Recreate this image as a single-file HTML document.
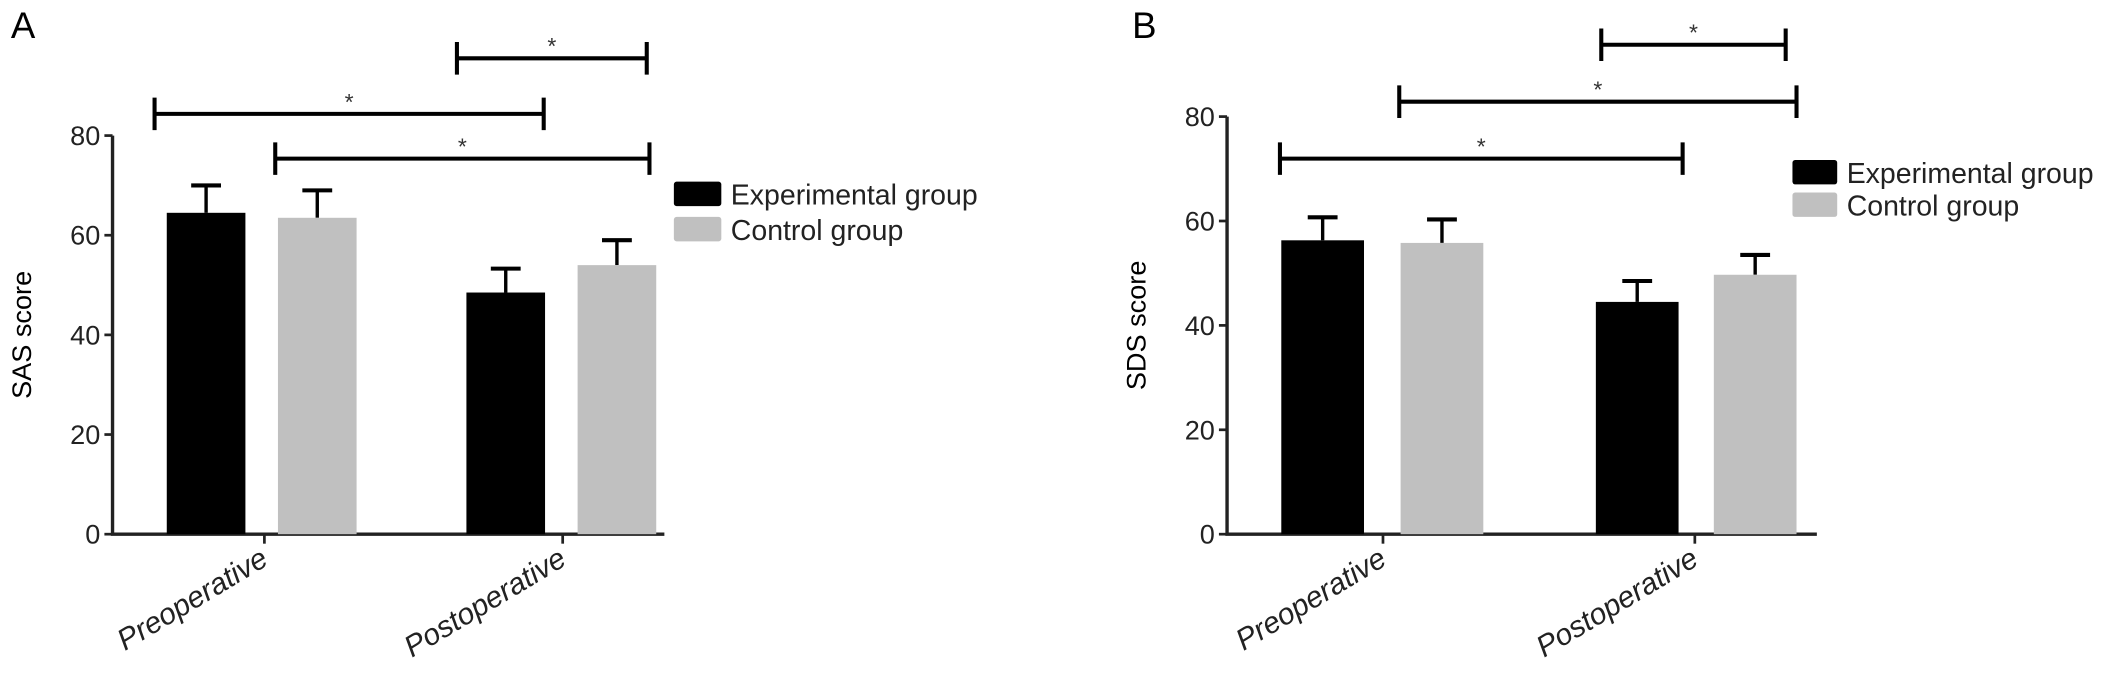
<!DOCTYPE html>
<html><head><meta charset="utf-8"><style>
html,body{margin:0;padding:0;background:#fff;}
svg{display:block;font-family:"Liberation Sans",sans-serif;}
</style></head><body>
<svg id="fig" width="2126" height="676" viewBox="0 0 1568 498.6" preserveAspectRatio="none"></svg>
<script>
const categories = ["Preoperative", "Postoperative"];
const seriesNames = ["Experimental group", "Control group"];
const sasExp = [64.5, 48.5];
const sasExpErr = [5.5, 4.8];
const sasCtrl = [63.5, 54];
const sasCtrlErr = [5.5, 5];
const sdsExp = [56.3, 44.5];
const sdsExpErr = [4.4, 4];
const sdsCtrl = [55.8, 49.7];
const sdsCtrlErr = [4.5, 3.8];
const yTicks = [0, 20, 40, 60, 80];

const NS = "http://www.w3.org/2000/svg";
const svg = document.getElementById('fig');
function mk(tag, attrs, parent, text){
  const e = document.createElementNS(NS, tag);
  for (const k in attrs) e.setAttribute(k, attrs[k]);
  if (text !== undefined) e.textContent = text;
  (parent || svg).appendChild(e);
  return e;
}

function panel(cfg){
  const g = mk('g', {});
  
  
  const y = v => cfg.y0 - (cfg.y0 - cfg.y80) * v / 80;
  const L = mk('text', {x: cfg.letterX, y: 28, 'font-size': 27}, g, cfg.letter);
  
  
  const ax = mk('path', {d:`M${cfg.ax} ${cfg.y80}V${cfg.y0}H${cfg.axEnd}`, stroke:'#222', 'stroke-width':2.5, fill:'none'}, g);
  
  
  yTicks.forEach(t => {
    mk('line', {x1: cfg.ax-6, x2: cfg.ax, y1: y(t), y2: y(t), stroke:'#222', 'stroke-width':2}, g);
    const tl = mk('text', {x: cfg.ax-9, y: y(t)+7, 'font-size': 20, 'text-anchor':'end', fill:'#222'}, g, String(t));
    
    
  });
  const yt = mk('text', {x: 0, y: 0, 'font-size': 20, 'text-anchor':'middle', transform:`translate(${cfg.ax-60},${(cfg.y0+cfg.y80)/2}) rotate(-90)`}, g, cfg.ytitle);
  
  
  const bw = cfg.bw;
  categories.forEach((c, i) => {
    const tx = cfg.tickX[i];
    mk('line', {x1: tx, x2: tx, y1: cfg.y0, y2: cfg.y0+7, stroke:'#222', 'stroke-width':2}, g);
    const xl = mk('text', {x:0, y:0, 'font-size': 22, 'font-style':'italic', 'text-anchor':'end', fill:'#222', transform:`translate(${tx+4},${cfg.y0+22}) rotate(-31)`}, g, c);
    
    
    [[cfg.exp, cfg.expErr, '#000', cfg.barX[i][0], 'bar-experimental-'], [cfg.ctrl, cfg.ctrlErr, '#c0c0c0', cfg.barX[i][1], 'bar-control-']].forEach(s => {
      const v = s[0][i], e = s[1][i], x = s[3];
      const cx = x + bw/2;
      mk('line', {x1: cx, x2: cx, y1: y(v), y2: y(v+e), stroke:'#000', 'stroke-width':2.5}, g);
      mk('line', {x1: cx-11, x2: cx+11, y1: y(v+e), y2: y(v+e), stroke:'#000', 'stroke-width':3}, g);
      const r = mk('rect', {x: x, y: y(v), width: bw, height: cfg.y0 - y(v), fill: s[2]}, g);
      
      
    });
  });
  cfg.brackets.forEach(b => {
    const bg = mk('g', {}, g);
    
    
    mk('path', {d:`M${b[0]} ${b[2]-12}V${b[2]+12}M${b[0]} ${b[2]}H${b[1]}M${b[1]} ${b[2]-12}V${b[2]+12}`, stroke:'#000', 'stroke-width':3, fill:'none'}, bg);
    mk('text', {x:(b[0]+b[1])/2, y: b[2]-3, 'font-size': 17, 'text-anchor':'middle', fill:'#333'}, bg, '*');
  });
  seriesNames.forEach((n, i) => {
    const lg = mk('g', {}, g);
    
    
    mk('rect', {x: cfg.legX, y: cfg.legY + i*cfg.legStep, width: cfg.legW, height: 18, fill: i ? '#c0c0c0' : '#000', rx:2}, lg);
    mk('text', {x: cfg.legX + cfg.legW + 7, y: cfg.legY + i*cfg.legStep + 17, 'font-size': 21, fill:'#222'}, lg, n);
  });
}

panel({name:'panel-a-sas', letter:'A', letterX:8, ax:83, axEnd:490, y0:394, y80:100, ytitle:'SAS score',
  exp:sasExp, expErr:sasExpErr, ctrl:sasCtrl, ctrlErr:sasCtrlErr, bw:58,
  barX:[[123,205],[344,426]], tickX:[195,415],
  brackets:[[337,477,43],[114,401,84],[203,479,117]],
  legX:497, legY:134, legStep:26, legW:35});
panel({name:'panel-b-sds', letter:'B', letterX:835, ax:905, axEnd:1340, y0:394, y80:86, ytitle:'SDS score',
  exp:sdsExp, expErr:sdsExpErr, ctrl:sdsCtrl, ctrlErr:sdsCtrlErr, bw:61,
  barX:[[945,1033],[1177,1264]], tickX:[1020,1250],
  brackets:[[1181,1317,33],[1032,1325,75],[944,1241,117]],
  legX:1322, legY:118, legStep:24, legW:33});
</script>
</body></html>
